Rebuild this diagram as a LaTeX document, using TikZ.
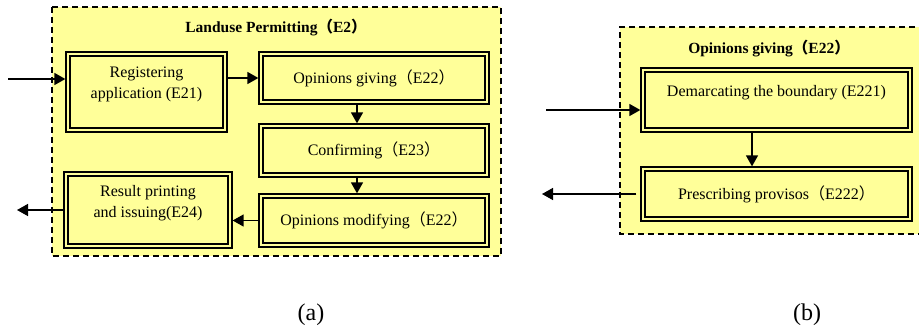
\documentclass[tikz,border=0pt]{standalone}
\usepackage{fontspec}
\setmainfont{Liberation Serif}
\newfontfamily\cjk{Noto Sans CJK SC}
\usetikzlibrary{arrows.meta}
\newcommand{\lpar}{{\cjk （}}
\newcommand{\rpar}{{\cjk ）}}
\definecolor{paleyellow}{RGB}{255,255,153}

\begin{document}
\begin{tikzpicture}[x=1pt,y=-1pt,
  every node/.style={font=\fontsize{16}{21}\selectfont},
  stage/.style={draw,line width=1.3pt,fill=paleyellow,align=center,inner sep=0pt},
  lift/.style={text depth=#1},
  flow/.style={line width=1.4pt,-{Triangle[length=11pt,width=12pt]}},
  frame/.style={dash pattern=on 6pt off 4pt,line width=1.5pt}]
\useasboundingbox (0,0) rectangle (919,330);
% panel (a)
\fill[paleyellow] (52,7) rectangle (501,256);
\draw[frame] (52,7) rectangle (501,256);
\node[font=\bfseries\fontsize{15.5}{21}\selectfont] (ta) at (276,28) {Landuse Permitting\lpar E2\rpar};
\node[stage,minimum width=161pt,minimum height=80pt,lift=19pt] (reg) at (146.5,92) {Registering\\application (E21)};
\node[stage,minimum width=230pt,minimum height=52pt] (opg) at (374,78) {Opinions giving\lpar E22\rpar};
\node[stage,minimum width=230pt,minimum height=53pt] (cnf) at (374,150.5) {Confirming\lpar E23\rpar};
\node[stage,minimum width=230pt,minimum height=53pt] (opm) at (374,220.5) {Opinions modifying\lpar E22\rpar};
\node[stage,minimum width=168pt,minimum height=76pt,lift=17pt] (res) at (148,210) {Result printing\\and issuing(E24)};
\coordinate (inA) at (8,79);
\coordinate (outA) at (17,210);
% panel (b)
\fill[paleyellow] (620,27) rectangle (919,234);
\draw[frame] (925,27) -- (620,27) -- (620,234) -- (925,234);
\node[font=\bfseries\fontsize{15.5}{21}\selectfont] (tb) at (769,49) {Opinions giving\lpar E22\rpar};
\node[stage,minimum width=271pt,minimum height=64pt,lift=19pt] (dem) at (776.5,100) {Demarcating the boundary (E221)};
\node[stage,minimum width=271pt,minimum height=54pt] (pre) at (776.5,194) {Prescribing provisos\lpar E222\rpar};
\coordinate (inB) at (546,110);
\coordinate (outB) at (542,194);
% inner borders
\foreach \n in {reg,opg,cnf,opm,res,dem,pre}
\draw[line width=2.4pt] ([shift={(4.5pt,4.5pt)}]\n.south west) rectangle ([shift={(-4.5pt,-4.5pt)}]\n.north east);
% connectors
\draw[flow] (inA) -- (inA -| reg.west);
\draw[flow] (opg.west -| reg.east) -- (opg.west);
\draw[flow] ([xshift=-17pt]opg.south) -- ([xshift=-17pt]cnf.north);
\draw[flow] ([xshift=-17pt]cnf.south) -- ([xshift=-17pt]opm.north);
\draw[flow] (opm.west) -- (opm.west -| res.east);
\draw[flow] (res.west) -- (outA);
\draw[flow] (inB) -- (inB -| dem.west);
\draw[flow] ([xshift=-24.5pt]dem.south) -- ([xshift=-24.5pt]pre.north);
\draw[flow] ([xshift=-4pt]pre.west) -- (outB);
% captions
\node[font=\fontsize{24}{28}\selectfont] (capa) at (311,315) {(a)};
\node[font=\fontsize{24}{28}\selectfont] (capb) at (807,315) {(b)};
\end{tikzpicture}
\end{document}
